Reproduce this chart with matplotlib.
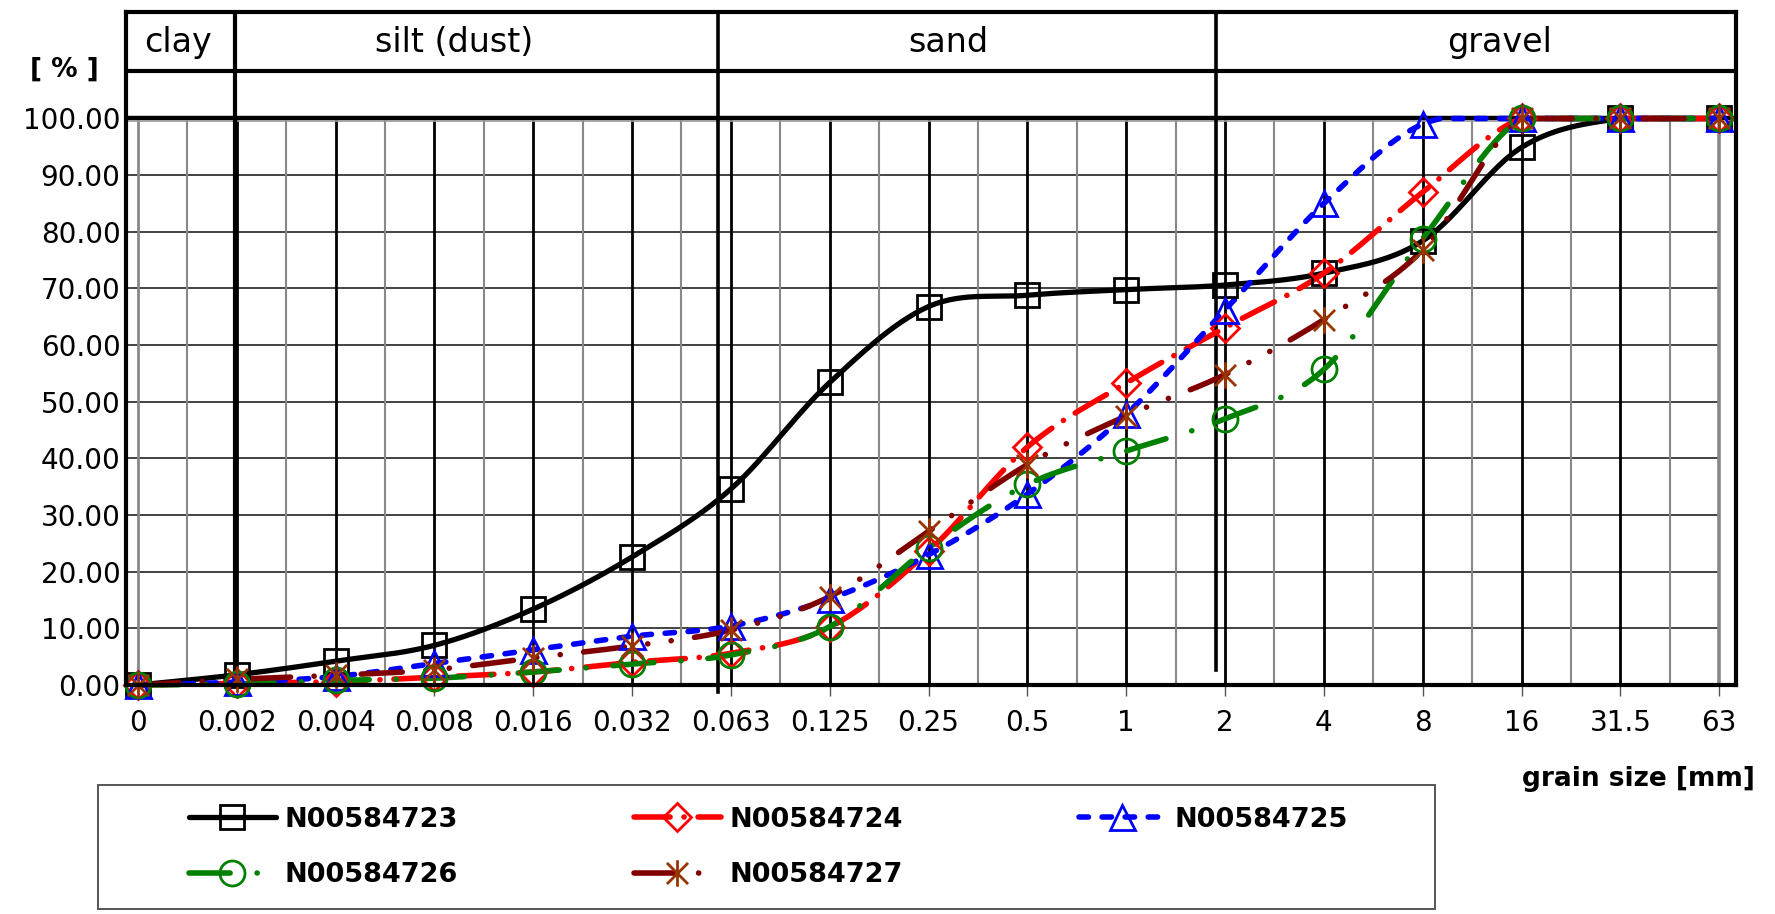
import matplotlib
matplotlib.use('Agg')
import matplotlib.pyplot as plt
from matplotlib.lines import Line2D
from matplotlib.patches import Rectangle
from matplotlib.path import Path
import numpy as np

"""Grain size distribution curves for five samples"""

sizes = ['0', '0.002', '0.004', '0.008', '0.016', '0.032', '0.063', '0.125',
         '0.25', '0.5', '1', '2', '4', '8', '16', '31.5', '63']

s723 = [0, 1.8, 4.2, 7.0, 13.4, 22.6, 34.6, 53.4, 66.8, 68.8, 69.8, 70.6, 72.7, 78.4, 94.9, 100, 100]
s724 = [0, 0.3, 0.6, 1.4, 2.3, 4.0, 5.6, 10.2, 23.6, 42.0, 53.3, 63.1, 72.7, 87.0, 100, 100, 100]
s725 = [0, 0.5, 1.5, 3.8, 6.2, 8.6, 10.4, 15.2, 23.0, 33.7, 47.8, 66.2, 85.0, 99.0, 100, 100, 100]
s726 = [0, 0.2, 0.8, 1.2, 2.3, 3.7, 5.3, 10.3, 24.2, 35.4, 41.3, 47.0, 55.7, 78.8, 100, 100, 100]
s727 = [0, 1.0, 1.7, 2.7, 4.8, 6.9, 9.7, 15.6, 27.1, 38.9, 47.5, 54.8, 64.5, 76.8, 100, 100, 100]

names = ['N00584723', 'N00584724', 'N00584725', 'N00584726', 'N00584727']

fractions = ['clay', 'silt (dust)', 'sand', 'gravel']
fraction_pos = [0.41, 3.2, 8.2, 13.78]
dividers = [0.98, 5.865, 10.91]

plt.rcParams['lines.scale_dashes'] = False
plt.rcParams['font.family'] = ['DejaVu Sans']


def smooth(y, n=30):
    # excel-like smoothed line (catmull-rom bezier), no overshoot past the data range
    x = np.arange(len(y), dtype=float)
    y = np.asarray(y, dtype=float)
    pts = np.column_stack([x, y])
    out = []
    t = np.linspace(0, 1, n)[:, None]
    for i in range(len(pts) - 1):
        p0 = pts[max(i - 1, 0)]
        p1 = pts[i]
        p2 = pts[i + 1]
        p3 = pts[min(i + 2, len(pts) - 1)]
        c1 = p1 + (p2 - p0) / 6
        c2 = p2 - (p3 - p1) / 6
        b = (1 - t)**3 * p1 + 3 * (1 - t)**2 * t * c1 + 3 * (1 - t) * t**2 * c2 + t**3 * p2
        out.append(b if i == 0 else b[1:])
    out = np.vstack(out)
    return out[:, 0], np.clip(out[:, 1], y.min(), y.max())


star = Path([(-1, -1), (1, 1), (-1, 1), (1, -1), (0, -1.25), (0, 1.25)],
            [Path.MOVETO, Path.LINETO, Path.MOVETO, Path.LINETO, Path.MOVETO, Path.LINETO])

styles = [
    dict(color='black', lw=3.8, ls='-', marker='s', mec='black', ms=17),
    dict(color='#ff0000', lw=4.0, ls=(0, (26, 10, 0.1, 10)), marker='D', mec='#ff0000', ms=14),
    dict(color='#0000ff', lw=4.0, ls=(0, (6.8, 9.8)), marker='^', mec='#0000ff', ms=18),
    dict(color='#008000', lw=4.0, ls=(0, (29.6, 19.4, 0.1, 19.4)), marker='o', mec='#008000', ms=18),
    dict(color='#800000', lw=4.0, ls=(0, (29.6, 16.9, 0.1, 16.9, 0.1, 16.9)), marker=star, mec='#993300', ms=19),
]
series = [s723, s724, s725, s726, s727]

fig = plt.figure(figsize=(17.75, 9.14), dpi=100)
ax = fig.add_axes([126 / 1775, 1 - 685 / 914, (1736 - 126) / 1775, (685 - 11.7) / 914])
ax.set_xlim(-0.12, 16.17)
ax.set_ylim(0, 118.85)

idx = np.arange(len(sizes))

# grid
for v in range(10, 100, 10):
    ax.plot([-0.12, 16], [v, v], color='#222222', lw=1.2, zorder=1)
for i in idx[:-1]:
    ax.plot([i + 0.5, i + 0.5], [0, 100], color='#888888', lw=1.5, zorder=1)
for i in idx:
    c = '#888888' if i in (0, 16) else 'black'
    ax.plot([i, i], [0, 100], color=c, lw=2.0 if i != 16 else 2.6, zorder=1)

# header and fraction dividers
ax.plot([-0.12, 16.17], [100, 100], color='black', lw=3.2, zorder=2)
ax.plot([-0.12, 16.17], [99.55, 99.55], color='#999999', lw=1.2, zorder=2)
ax.plot([-0.12, 16.17], [108.3, 108.3], color='black', lw=3.0, zorder=2)
ax.plot([dividers[0]] * 2, [0, 118.85], color='black', lw=3.0, zorder=2)
ax.plot([dividers[1]] * 2, [-1.3, 118.85], color='black', lw=2.6, zorder=2, clip_on=False)
ax.plot([dividers[2]] * 2, [2.7, 118.85], color='black', lw=2.6, zorder=2)
for name, xp in zip(fractions, fraction_pos):
    ax.text(xp, 113.5, name, ha='center', va='center', fontsize=24)

# curves
handles = []
for ys, st, nm in zip(series, styles, names):
    sx, sy = smooth(ys)
    ax.plot(sx, sy, color=st['color'], lw=st['lw'], ls=st['ls'],
            dash_capstyle='round', solid_capstyle='round', zorder=3, clip_on=False)
    ax.plot(idx, ys, ls='none', marker=st['marker'], ms=st['ms'], mfc='none',
            mec=st['mec'], mew=2.0, zorder=4, clip_on=False)
    handles.append(Line2D([], [], color=st['color'], lw=st['lw'], ls=st['ls'],
                          dash_capstyle='round', solid_capstyle='round',
                          marker=st['marker'], ms=st['ms'], mfc='none',
                          mec=st['mec'], mew=2.0))

for side in ['left', 'right', 'top', 'bottom']:
    ax.spines[side].set_linewidth(3.0)
    ax.spines[side].set_zorder(5)

ax.set_xticks(idx)
ax.set_xticklabels(sizes, fontsize=20)
ax.set_yticks(np.arange(0, 101, 10))
ax.set_yticklabels(['%.2f' % v for v in np.arange(0, 101, 10)], fontsize=20)
ax.tick_params(axis='x', length=8, width=1, color='#555555', pad=9)
ax.tick_params(axis='y', length=0, pad=4)

fig.text(64.5 / 1775, 1 - 70 / 914, '[ % ]', ha='center', va='center', fontsize=19, fontweight='bold')
fig.text(1755 / 1775, 1 - 779 / 914, 'grain size [mm]', ha='right', va='center', fontsize=19, fontweight='bold')

# legend (row-wise order for 3 columns)
order = [0, 3, 1, 4, 2]
fig.legend([handles[k] for k in order], [names[k] for k in order], ncol=3,
           loc='center', bbox_to_anchor=(768.5 / 1775, 1 - 847.5 / 914), frameon=False,
           handlelength=3.2, handletextpad=0.33, columnspacing=6.5, labelspacing=1.1,
           numpoints=1, prop={'weight': 'bold', 'size': 19.5})
fig.patches.append(Rectangle((98 / 1775, 5 / 914), 1337 / 1775, 124 / 914, transform=fig.transFigure,
                             fill=False, edgecolor='#555555', lw=1.4))

fig.savefig('out.png', dpi=100)
